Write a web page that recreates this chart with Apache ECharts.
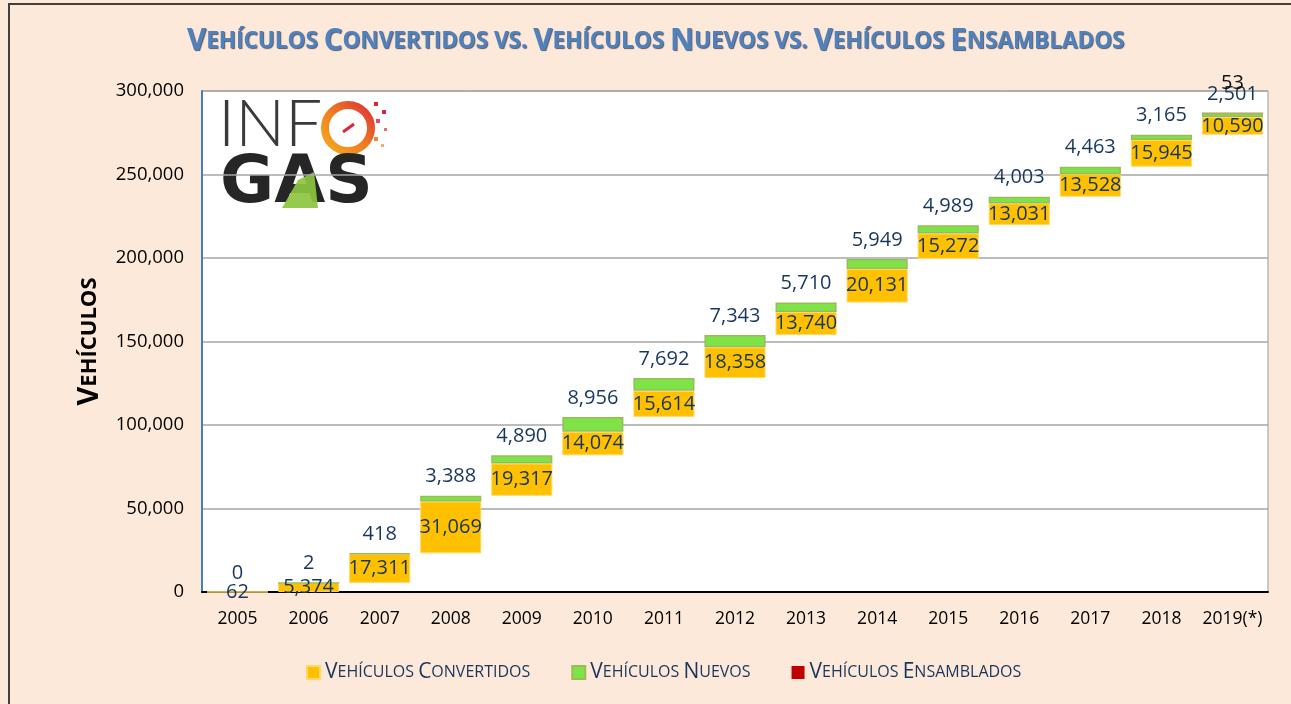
<!DOCTYPE html>
<html>
<head>
<meta charset="utf-8">
<script src="https://cdn.jsdelivr.net/npm/echarts@6/dist/echarts.min.js"></script>
<style>
  html, body { margin: 0; padding: 0; background: #fde9d9; }
  #chart { width: 1291px; height: 704px; }
</style>
</head>
<body>
<div id="chart"></div>
<script>
const years = ['2005', '2006', '2007', '2008', '2009', '2010', '2011', '2012', '2013', '2014', '2015', '2016', '2017', '2018', '2019(*)'];
const convertidos = [62, 5374, 17311, 31069, 19317, 14074, 15614, 18358, 13740, 20131, 15272, 13031, 13528, 15945, 10590];
const nuevos = [0, 2, 418, 3388, 4890, 8956, 7692, 7343, 5710, 5949, 4989, 4003, 4463, 3165, 2501];
const ensamblados = [0, 0, 0, 0, 0, 0, 0, 0, 0, 0, 0, 0, 0, 0, 53];
const yTicks = { min: 0, max: 300000, interval: 50000 };

// base invisible = acumulado de los años anteriores
const base = [];
let acc = 0;
years.forEach((y, i) => {
  base.push(acc);
  acc += convertidos[i] + nuevos[i] + ensamblados[i];
});

const fmt = v => Number(v).toLocaleString('en-US');

// versalitas: mayúsculas grandes, minúsculas pequeñas
const smallCaps = (txt, big, small) => {
  let out = '';
  for (const ch of txt) {
    const isUpper = ch !== ch.toLowerCase();
    out += '{' + (isUpper ? big : small) + '|' + ch.toUpperCase() + '}';
  }
  return out;
};

const chart = echarts.init(document.getElementById('chart'));
const font = '"Open Sans", sans-serif';
const navy = '#17365d';
const titleShadow = { textShadowColor: 'rgba(20,30,60,0.7)', textShadowOffsetX: 1, textShadowOffsetY: 1, textShadowBlur: 1 };

const option = {
  backgroundColor: '#fde9d9',
  animation: false,
  title: {
    text: smallCaps('Vehículos Convertidos vs. Vehículos Nuevos vs. Vehículos Ensamblados', 'b', 's'),
    left: 182,
    top: 22,
    textStyle: {
      rich: {
        b: Object.assign({ fontFamily: font, fontWeight: 'bold', fontSize: 29.5, color: '#4f81bd' }, titleShadow),
        s: Object.assign({ fontFamily: font, fontWeight: 'bold', fontSize: 22.5, color: '#4f81bd' }, titleShadow)
      }
    }
  },
  legend: {
    bottom: 16,
    left: 301,
    itemWidth: 13,
    itemHeight: 13,
    itemGap: 41,
    icon: 'rect',
    data: ['Vehículos Convertidos', 'Vehículos Nuevos', 'Vehículos Ensamblados'],
    formatter: name => smallCaps(name, 'b', 's'),
    textStyle: {
      rich: {
        b: { fontFamily: font, fontSize: 21, color: navy },
        s: { fontFamily: font, fontSize: 16, color: navy }
      }
    }
  },
  grid: {
    left: 202,
    right: 23,
    top: 91,
    bottom: 112,
    show: true,
    backgroundColor: '#ffffff',
    borderColor: '#9a9a9a',
    borderWidth: 1
  },
  xAxis: {
    type: 'category',
    data: years,
    axisTick: { show: false },
    axisLine: { lineStyle: { color: '#000', width: 2 } },
    axisLabel: { color: '#000', fontSize: 17.5, fontFamily: font, margin: 18, interval: 0 }
  },
  yAxis: {
    type: 'value',
    min: yTicks.min,
    max: yTicks.max,
    interval: yTicks.interval,
    name: smallCaps('Vehículos', 'b', 's'),
    nameLocation: 'middle',
    nameGap: 98,
    nameRotate: 90,
    nameTextStyle: {
      rich: {
        b: { fontFamily: font, fontWeight: 'bold', fontSize: 29, color: '#000' },
        s: { fontFamily: font, fontWeight: 'bold', fontSize: 22, color: '#000' }
      }
    },
    axisLine: { show: true, lineStyle: { color: '#4a7ebb', width: 2 } },
    axisTick: { show: false },
    axisLabel: { color: '#000', fontSize: 18.5, fontFamily: font, margin: 18, formatter: fmt },
    splitLine: { lineStyle: { color: '#a6a6a6', width: 1.5 } }
  },
  series: [
    {
      name: 'base',
      type: 'bar',
      stack: 'total',
      data: base,
      silent: true,
      itemStyle: { color: 'transparent' },
      barCategoryGap: '14%'
    },
    {
      name: 'Vehículos Convertidos',
      type: 'bar',
      stack: 'total',
      data: convertidos,
      itemStyle: { color: '#ffc000', borderColor: '#ffd966', borderWidth: 1 },
      label: {
        show: true,
        position: 'inside',
        color: navy,
        fontSize: 20,
        fontFamily: font,
        formatter: p => fmt(p.value)
      }
    },
    {
      name: 'Vehículos Nuevos',
      type: 'bar',
      stack: 'total',
      data: nuevos.map(v => ({ value: v, itemStyle: v === 0 ? { borderWidth: 0 } : undefined })),
      itemStyle: { color: '#7ee346', borderColor: '#9bbb59', borderWidth: 1.5 },
      label: {
        show: true,
        position: 'top',
        distance: 9,
        color: navy,
        fontSize: 20,
        fontFamily: font,
        formatter: p => fmt(p.value)
      }
    },
    {
      name: 'Vehículos Ensamblados',
      type: 'bar',
      stack: 'total',
      data: ensamblados,
      itemStyle: { color: '#c00000' },
      label: {
        show: true,
        position: 'top',
        distance: 20,
        color: '#111',
        fontSize: 20,
        fontFamily: font,
        formatter: p => (p.value > 0 ? fmt(p.value) : '')
      }
    }
  ],
  graphic: [
    {
      type: 'rect',
      silent: true,
      shape: { x: 9, y: 4, width: 1400, height: 800 },
      style: { fill: 'none', stroke: '#404040', lineWidth: 2 }
    },
    {
      type: 'group',
      left: 218,
      top: 92,
      silent: true,
      children: [
        { type: 'text', x: 0, y: 0,
          style: { text: 'INF', font: '300 66px Lato, "DejaVu Sans"', fill: '#3a3a3a' } },
        { type: 'arc', shape: { cx: 130, cy: 36, r: 23, startAngle: 0, endAngle: Math.PI * 2 },
          style: { fill: 'none', lineWidth: 8,
            stroke: { type: 'linear', x: 0, y: 1, x2: 1, y2: 0,
              colorStops: [{ offset: 0, color: '#f7b21c' }, { offset: 0.5, color: '#f07a22' }, { offset: 1, color: '#d8283a' }] } } },
        { type: 'line', shape: { x1: 125, y1: 40, x2: 136, y2: 32 },
          style: { stroke: '#d8283a', lineWidth: 3 } },
        { type: 'rect', shape: { x: 156, y: 10, width: 4, height: 4 }, style: { fill: '#d8283a' } },
        { type: 'rect', shape: { x: 164, y: 18, width: 4, height: 4 }, style: { fill: '#d8283a' } },
        { type: 'rect', shape: { x: 158, y: 27, width: 4, height: 4 }, style: { fill: '#e0505a' } },
        { type: 'rect', shape: { x: 166, y: 36, width: 3, height: 3 }, style: { fill: '#e0707a' } },
        { type: 'rect', shape: { x: 156, y: 45, width: 4, height: 4 }, style: { fill: '#e88a3a' } },
        { type: 'rect', shape: { x: 163, y: 52, width: 3, height: 3 }, style: { fill: '#f0b070' } },
        { type: 'text', x: 2, y: 60,
          style: { text: 'GAS', font: 'bold 66px "DejaVu Sans"', fill: '#262626' } },
        { type: 'polygon', shape: { points: [[64, 116], [80, 88], [96, 80], [100, 116]] },
          style: { fill: '#8cc63f', opacity: 0.92 } }
      ]
    }
  ]
};

chart.setOption(option);
</script>
</body>
</html>
